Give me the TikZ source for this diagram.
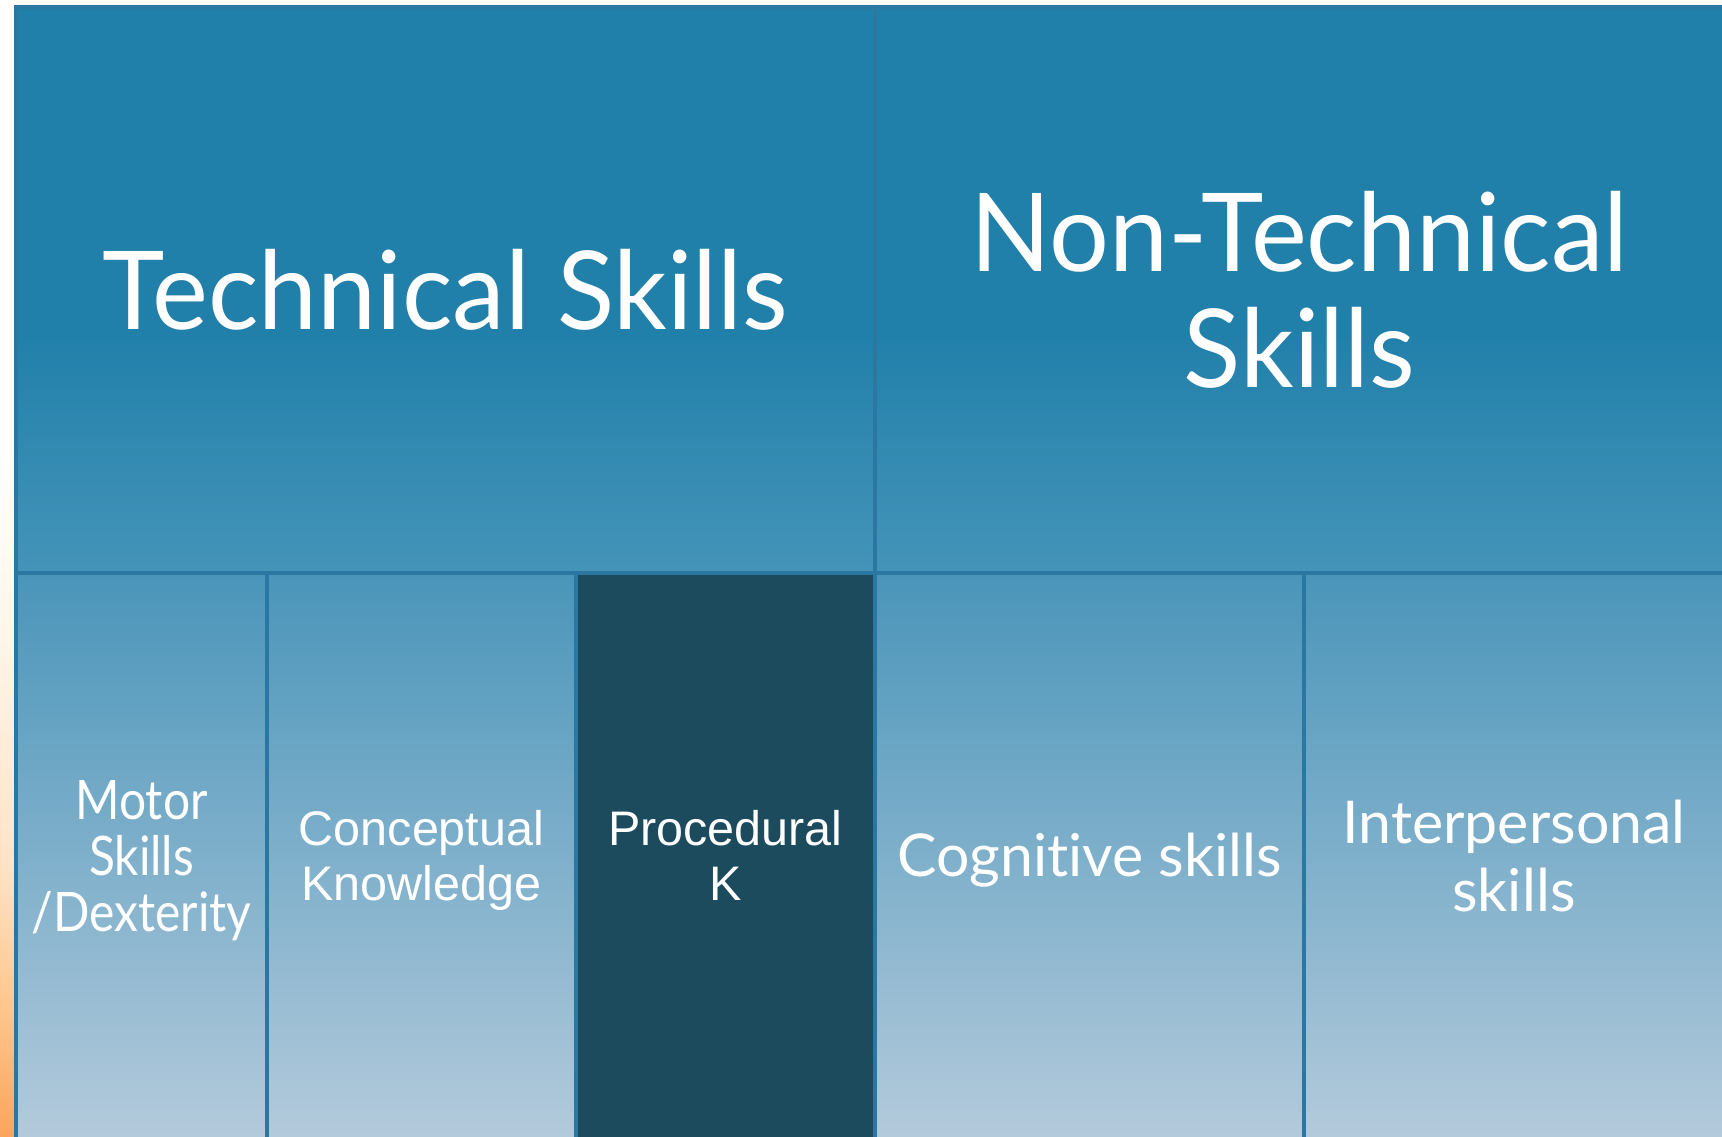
\documentclass[tikz,border=0pt]{standalone}
\usepackage{fontspec}
\setmainfont{Lato}
\newfontfamily\arialfont{Liberation Sans}
\newfontfamily\headfont[FakeStretch=0.97, Ligatures=NoCommon]{Lato}
\newfontfamily\slimfont[FakeStretch=0.88, Ligatures=NoCommon]{Lato}
\newfontfamily\bodyfont[Ligatures=NoCommon]{Lato}
\usetikzlibrary{positioning}

\definecolor{headhi}{HTML}{2180AA}
\definecolor{headlo}{HTML}{4594B9}
\definecolor{subhi}{HTML}{4A95BA}
\definecolor{sublo}{HTML}{B5CBDC}
\definecolor{procfill}{HTML}{1B4B5C}
\definecolor{edgeblue}{HTML}{2A78A2}
\definecolor{paper}{HTML}{FDF9F7}
\definecolor{peachlight}{HTML}{FFF5EA}
\definecolor{peach}{HTML}{FFE3C6}
\definecolor{apricot}{HTML}{FFC890}
\definecolor{orangeedge}{HTML}{FBA55C}

\pgfdeclareverticalshading{headshade}{100bp}{color(0bp)=(headlo); color(25bp)=(headlo);
  color(46bp)=(headhi); color(100bp)=(headhi)}
\pgfdeclareverticalshading{stripshade}{100bp}{color(0bp)=(orangeedge); color(25bp)=(orangeedge);
  color(31bp)=(apricot); color(37bp)=(peach); color(47bp)=(peachlight);
  color(55bp)=(white); color(100bp)=(white)}

\begin{document}
\begin{tikzpicture}[x=1cm, y=1cm,
  panel/.style={draw=edgeblue, line width=0.9pt, inner sep=0pt, outer sep=0pt,
                align=center, text=white},
  head/.style={panel, shade, shading=headshade, minimum height=5.66cm,
               font=\headfont\fontsize{31}{33}\selectfont},
  sub/.style={panel, top color=subhi, bottom color=sublo, minimum height=5.75cm,
              font=\bodyfont\fontsize{16.8}{19.3}\selectfont},
  plain/.style={panel, minimum height=5.75cm,
                font=\arialfont\fontsize{13.8}{15.9}\selectfont},
]
\useasboundingbox (0,0) rectangle (17.22,11.36);
\clip (0,0) rectangle (17.22,11.36);
\fill[paper] (0,0) rectangle (17.22,11.36);
\shade[shading=stripshade] (0,0) rectangle (0.16,11.36);

% Top row
\node[head, anchor=north west, minimum width=8.59cm] (tech) at (0.16,11.29) {Technical Skills};
\node[head, right=0pt of tech, minimum width=8.49cm] (nontech) {Non-Technical\\Skills};

% Bottom row
\node[sub, anchor=north west, minimum width=2.51cm,
      font=\slimfont\fontsize{15.5}{16}\selectfont] (motor) at (tech.south west)
  {Motor\\Skills\\/Dexterity};
\node[plain, top color=subhi, bottom color=sublo, right=0pt of motor,
      minimum width=3.09cm] (concept) {Conceptual\\Knowledge};
\node[plain, fill=procfill, right=0pt of concept, minimum width=2.99cm] (proc)
  {Procedural\\K\vphantom{p}};
\node[sub, right=0pt of proc, minimum width=4.29cm] (cogn) {Cognitive skills};
\node[sub, right=0pt of cogn, minimum width=4.20cm] (inter)
  {Interpersonal\\skills\vphantom{p}};
\end{tikzpicture}
\end{document}
